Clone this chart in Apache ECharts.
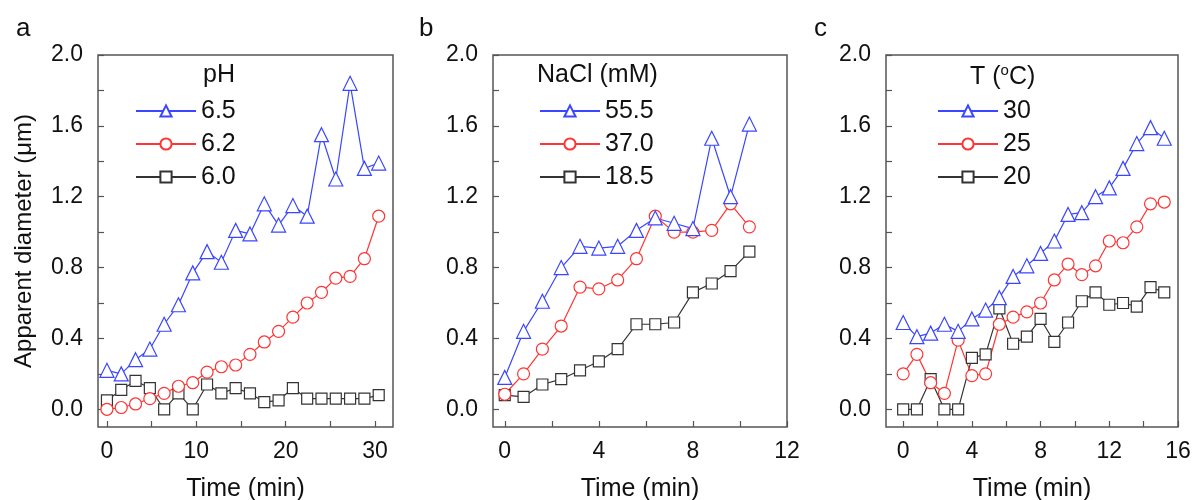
<!DOCTYPE html>
<html>
<head>
<meta charset="utf-8">
<script src="https://cdn.jsdelivr.net/npm/echarts@6/dist/echarts.min.js"></script>
<style>
html,body{margin:0;padding:0;background:#fff;}
#chart{width:1194px;height:500px;}
</style>
</head>
<body>
<div id="chart"></div>
<script>
// ---- Data ----
// Panel a (pH)
const timeA = [0,1.6,3.2,4.8,6.4,8.0,9.6,11.2,12.8,14.4,16.0,17.6,19.2,20.8,22.4,24.0,25.6,27.2,28.8,30.4];
const pH65 = [0.22,0.20,0.28,0.34,0.48,0.59,0.77,0.89,0.83,1.01,0.99,1.16,1.04,1.15,1.09,1.55,1.30,1.84,1.36,1.39];
const pH62 = [0.00,0.01,0.03,0.06,0.09,0.13,0.15,0.21,0.24,0.25,0.31,0.38,0.44,0.52,0.60,0.66,0.74,0.75,0.85,1.09];
const pH60 = [0.05,0.11,0.16,0.12,0.00,0.09,0.00,0.14,0.09,0.12,0.09,0.04,0.05,0.12,0.06,0.06,0.06,0.06,0.06,0.08];
// Panel b (NaCl)
const timeB = [0,0.8,1.6,2.4,3.2,4.0,4.8,5.6,6.4,7.2,8.0,8.8,9.6,10.4];
const nacl555 = [0.18,0.44,0.61,0.80,0.92,0.91,0.92,1.01,1.08,1.05,1.02,1.53,1.20,1.61];
const nacl370 = [0.085,0.20,0.34,0.47,0.69,0.68,0.73,0.85,1.09,1.00,1.00,1.01,1.16,1.03];
const nacl185 = [0.08,0.07,0.14,0.17,0.22,0.27,0.34,0.48,0.48,0.49,0.66,0.71,0.78,0.89];
// Panel c (T)
const timeC = [0,0.8,1.6,2.4,3.2,4.0,4.8,5.6,6.4,7.2,8.0,8.8,9.6,10.4,11.2,12.0,12.8,13.6,14.4,15.2];
const t30 = [0.49,0.41,0.43,0.48,0.44,0.51,0.56,0.63,0.75,0.81,0.88,0.95,1.10,1.11,1.20,1.25,1.36,1.50,1.59,1.53];
const t25 = [0.20,0.31,0.15,0.09,0.39,0.19,0.20,0.48,0.52,0.55,0.60,0.73,0.82,0.76,0.81,0.95,0.94,1.03,1.16,1.17];
const t20 = [0.00,0.00,0.17,0.00,0.00,0.29,0.31,0.57,0.37,0.41,0.51,0.38,0.49,0.61,0.66,0.59,0.60,0.58,0.69,0.66];
// Tick labels
const yLabels = [0,0.4,0.8,1.2,1.6,2.0];
const yTicks = [0,0.2,0.4,0.6,0.8,1.0,1.2,1.4,1.6,1.8,2.0];
const xLabelsA = [0,10,20,30];
const xTicksA = [0,5,10,15,20,25,30];
const xLabelsB = [0,4,8,12];
const xTicksB = [0,2,4,6,8,10,12];
const xLabelsC = [0,4,8,12,16];
const xTicksC = [0,2,4,6,8,10,12,14,16];

const FONT = "'Liberation Sans', Arial, Helvetica, sans-serif";
const BLUE = '#3a46ff', RED = '#ff3535', BLACK = '#333333', AX = '#555555';

function zip(xs, ys){ return xs.map((x,i)=>[x, ys[i]]); }

const grids = [
  {left:98, top:55, width:295, height:372},
  {left:493, top:55, width:294, height:372},
  {left:886, top:55, width:292, height:372}
].map(g => Object.assign(g, {show:true, borderColor:AX, borderWidth:1.5, backgroundColor:'transparent',
  containLabel:false, outerBoundsMode:'none'}));

function xAxis(idx, min, max, labels, ticks){
  return {
    type:'value', gridIndex:idx, min:min, max:max, position:'bottom',
    name:'Time (min)', nameLocation:'middle', nameGap:50,
    nameTextStyle:{fontFamily:FONT, fontSize:25, color:'#111'},
    axisLine:{show:false, onZero:false},
    splitLine:{show:false},
    axisTick:{show:true, inside:true, length:6, customValues:ticks, lineStyle:{color:AX, width:1.2}},
    axisLabel:{show:true, customValues:labels, margin:13, fontFamily:FONT, fontSize:23, color:'#111'}
  };
}
function yAxis(idx, showName){
  return {
    type:'value', gridIndex:idx, min:-0.1, max:2.0, position:'left',
    name: showName ? 'Apparent diameter (\u03bcm)' : '',
    nameLocation:'middle', nameGap:62, nameRotate:90,
    nameTextStyle:{fontFamily:FONT, fontSize:24, color:'#111'},
    axisLine:{show:false, onZero:false},
    splitLine:{show:false},
    axisTick:{show:true, inside:true, length:6, customValues:yTicks, lineStyle:{color:AX, width:1.2}},
    axisLabel:{show:true, customValues:yLabels, margin:15, fontFamily:FONT, fontSize:23, color:'#111',
      formatter: v => Number(v).toFixed(1)}
  };
}

function series(name, idx, xs, ys, symbol, size, color){
  return {
    type:'line', name:name, xAxisIndex:idx, yAxisIndex:idx,
    data: zip(xs, ys),
    symbol:symbol, symbolSize:size, showAllSymbol:true,
    lineStyle:{color:color, width:1.2},
    itemStyle:{color:'#ffffff', borderColor:color, borderWidth:1.2},
    emphasis:{disabled:true},
    animation:false
  };
}

function legend(left, names){
  return {
    left:left, top:98, orient:'vertical', padding:0,
    itemWidth:60, itemHeight:14, itemGap:7,
    data:names,
    textStyle:{fontFamily:FONT, fontSize:25, lineHeight:26, color:'#111', padding:[0,0,0,0]},
    selectedMode:false
  };
}

function ttl(text, left, top, size, extra){
  return Object.assign({text:text, left:left, top:top, padding:0,
    textStyle:Object.assign({fontFamily:FONT, fontSize:size, fontWeight:'normal', color:'#111'}, extra || {})});
}

const option = {
  backgroundColor:'#ffffff',
  animation:false,
  title:[
    ttl('a', 16, 16, 26),
    ttl('b', 419, 16, 26),
    ttl('c', 814, 16, 26),
    ttl('pH', 203, 63, 25),
    ttl('NaCl (mM)', 537, 63, 25),
    ttl('T ({s|o}C)', 970, 63, 25, {rich:{s:{fontFamily:FONT, fontSize:15, verticalAlign:'top', lineHeight:28, color:'#111', padding:[0,0,10,0]}}})
  ],
  grid:grids,
  xAxis:[
    xAxis(0, -1, 32, xLabelsA, xTicksA),
    xAxis(1, -0.5, 12, xLabelsB, xTicksB),
    xAxis(2, -1, 16, xLabelsC, xTicksC)
  ],
  yAxis:[yAxis(0,true), yAxis(1,false), yAxis(2,false)],
  legend:[
    legend(135, ['6.5','6.2','6.0']),
    legend(539, ['55.5','37.0','18.5']),
    legend(937, ['30','25','20'])
  ],
  series:[
    series('6.0', 0, timeA, pH60, 'rect', 11, BLACK),
    series('6.2', 0, timeA, pH62, 'circle', 12, RED),
    series('6.5', 0, timeA, pH65, 'triangle', 14, BLUE),
    series('18.5', 1, timeB, nacl185, 'rect', 11, BLACK),
    series('37.0', 1, timeB, nacl370, 'circle', 12, RED),
    series('55.5', 1, timeB, nacl555, 'triangle', 14, BLUE),
    series('20', 2, timeC, t20, 'rect', 11, BLACK),
    series('25', 2, timeC, t25, 'circle', 12, RED),
    series('30', 2, timeC, t30, 'triangle', 14, BLUE)
  ]
};

const chart = echarts.init(document.getElementById('chart'), null, {renderer:'canvas'});
chart.setOption(option);
</script>
</body>
</html>
